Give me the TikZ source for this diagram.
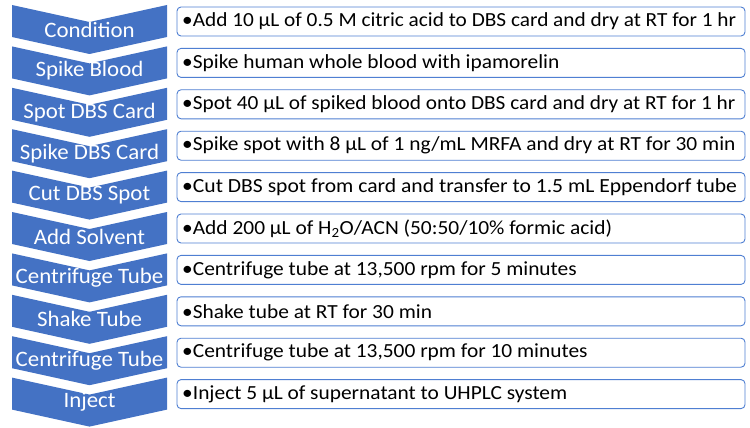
\documentclass[tikz,border=0pt]{standalone}
\usepackage{fontspec}
\setmainfont{Carlito}
\definecolor{chev}{HTML}{4472C4}
\definecolor{boxline}{HTML}{4F7FD2}
\begin{document}
\begin{tikzpicture}[x=1pt,y=-1pt,
  chevfill/.style={fill=chev,draw=none},
  chevtext/.style={text=white,font=\fontsize{22}{26}\selectfont,inner sep=0pt,anchor=center},
  stepbox/.style={draw=boxline,line width=0.9pt,rounded corners=4pt,fill=white},
  boxtext/.style={text=black,font=\fontsize{20}{24}\selectfont,inner sep=0pt,anchor=west}]
\useasboundingbox (0,0) rectangle (750,428);
\foreach \i/\lab/\sx/\txt in {
  0/Condition/1.065/{•Add 10 µL of 0.5 M citric acid to DBS card and dry at RT for 1 hr},
  1/Spike Blood/1.07/{•Spike human whole blood with ipamorelin},
  2/Spot DBS Card/1.065/{•Spot 40 µL of spiked blood onto DBS card and dry at RT for 1 hr},
  3/Spike DBS Card/1.07/{•Spike spot with 8 µL of 1 ng/mL MRFA and dry at RT for 30 min},
  4/Cut DBS Spot/1.08/{•Cut DBS spot from card and transfer to 1.5 mL Eppendorf tube},
  5/Add Solvent/1.07/{•Add 200 µL of H\textsubscript{2}O/ACN (50:50/10\% formic acid)},
  6/Centrifuge Tube/1.07/{•Centrifuge tube at 13,500 rpm for 5 minutes},
  7/Shake Tube/1.07/{•Shake tube at RT for 30 min},
  8/Centrifuge Tube/1.07/{•Centrifuge tube at 13,500 rpm for 10 minutes},
  9/Inject/1.07/{•Inject 5 µL of supernatant to UHPLC system}}{
  \pgfmathsetmacro{\t}{5+41.4*\i}
  \pgfmathsetmacro{\b}{7+41.4*\i}
  \path[chevfill] (12,\t) -- (89.5,\t+17) -- (167,\t) -- (167,\t+32) -- (89.5,\t+49) -- (12,\t+32) -- cycle;
  \node[chevtext] (c\i) at (89.5,\t+24.5) {\scalebox{1.04}[1]{\lab}};
  \draw[stepbox] (177,\b) rectangle (745,\b+29);
  \node[boxtext] (t\i) at (182,\b+14.5) {\scalebox{\sx}[1]{\txt}};
}
\end{tikzpicture}
\end{document}
